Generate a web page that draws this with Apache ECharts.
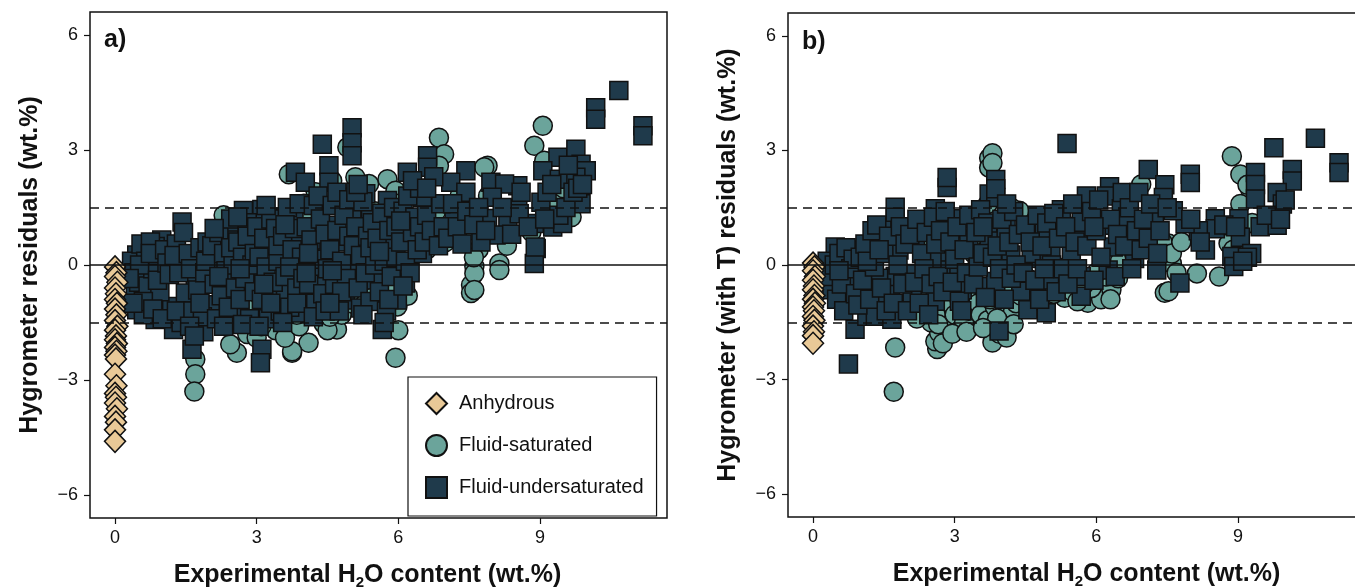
<!DOCTYPE html>
<html><head><meta charset="utf-8">
<script src="https://cdn.jsdelivr.net/npm/echarts@6/dist/echarts.min.js"></script>
<style>html,body{margin:0;padding:0;background:#fff}#c{width:1355px;height:588px}</style>
</head><body><div id="c"></div>
<script>
// ---------- DATA ----------
const xTicks = [0, 3, 6, 9];
const yTicks = [-6, -3, 0, 3, 6];
const refLines = [-1.5, 0, 1.5];

// Panel a: Hygrometer residuals
const anhA = [[0,-0.05],[0.03,-0.2],[0,-0.3],[0.05,-0.45],[0,-0.6],[0.02,-0.75],[0,-0.9],[0.04,-1.0],[0,-1.15],[0.03,-1.3],[0,-1.45],[0.05,-1.6],[0,-1.7],[0.02,-1.85],[0,-1.95],[0.04,-2.05],[0,-2.15],[0.03,-2.25],[0,-2.35],[0.02,-2.45],[0,-2.85],[0.03,-3.15],[0,-3.35],[0.02,-3.45],[0,-3.6],[0.04,-3.75],[0,-3.95],[0.02,-4.1],[0,-4.3],[0,-4.6]];

const satA = [[1.70,-2.46],[1.70,-2.85],[1.68,-3.3],[2.58,-2.29],[2.44,-2.07],[2.30,1.30],[2.30,-0.09],[3.68,2.37],[3.75,-2.29],[3.26,-1.34],[3.54,-1.4],[2.37,-1.6],[4.92,3.07],[6.86,3.32],[6.97,2.89],[6.86,2.59],[4.25,1.90],[5.09,2.29],[5.38,2.11],[5.77,2.24],[5.94,1.94],[4.14,1.34],[7.54,-0.52],[7.54,-0.73],[7.61,-0.04],[5.98,-1.08],[5.94,-2.42],[4.70,-1.68],[4.10,-2.03],[3.75,-2.25],[4.42,-1.53],[4.14,-1.19],[9.06,3.63],[8.88,3.11],[9.09,2.72],[7.89,2.59],[9.59,1.77],[9.67,1.47],[9.67,1.25],[8.82,0.86],[8.14,0.04],[8.14,-0.13],[7.61,-0.22],[7.61,-0.65],[7.82,2.55],
[2.4,0.4],[2.6,-1.0],[2.8,-1.8],[2.9,-1.5],[3.0,-1.9],[3.2,-0.8],[3.4,-1.7],[3.6,-1.9],[3.9,-1.6],[4.0,-0.9],[4.3,-1.3],[4.5,-1.7],[4.6,-0.6],[4.8,-1.3],[5.0,-1.0],[5.2,-0.5],[5.5,-0.8],[5.8,-0.5],[6.0,-1.7],[6.2,-0.8],[2.5,1.2],[3.0,1.3],[3.5,1.0],[4.0,1.6],[4.6,2.2],[5.0,1.8],[5.5,1.4],[6.0,1.6],[6.4,1.1],[6.8,1.4],[7.2,1.3],[7.5,0.9],[7.7,0.4],[7.9,1.8],[8.3,0.5],[9.3,1.6],[9.5,2.0],[2.2,-1.2],[1.9,-1.4],[6.6,0.4],[7.0,0.6],[7.3,1.8],[7.6,0.2],[9.8,1.8],[4.4,-0.2],
[2.75,-1.1],[3.1,-1.6],[3.5,-0.6],[3.85,-1.3],[4.55,-1.35],[5.3,-1.0],[2.35,-0.6]];

const undA = [[0.46,0.26],[0.57,0.30],[0.99,0.65],[0.85,0.48],[0.67,-0.17],[0.71,-0.91],[0.43,-0.65],[0.46,-1.17],[0.85,-1.42],[1.42,1.12],[1.20,-1.08],[1.42,0.13],[1.77,0.17],[1.24,-1.68],[1.70,-0.39],[1.70,-0.91],[2.02,-1.04],[1.88,-1.74],[1.63,-2.2],[2.19,0.22],[2.55,0.91],[2.90,0.93],[2.72,1.42],[3.11,1.45],[2.87,0.45],[3.33,0.50],[2.48,-0.30],[3.11,-0.30],[2.62,-1.25],[3.11,-2.2],[3.08,-2.55],[3.43,-0.74],[3.61,1.25],[2.05,-0.13],[1.49,-0.73],[2.41,0.65],
[5.02,3.58],[5.02,3.19],[5.02,2.85],[4.39,3.15],[4.53,2.59],[4.53,2.16],[3.82,2.42],[4.03,2.16],[6.62,2.85],[6.62,2.55],[6.19,2.42],[7.43,2.46],[7.11,2.16],[7.43,1.90],[5.31,1.86],[5.77,1.68],[6.51,1.77],[5.02,1.42],[3.79,1.30],[4.56,1.04],[5.41,1.30],[5.66,1.08],[6.22,0.95],[7.18,1.21],[3.86,0.56],[4.32,0.43],[4.85,0.60],[5.48,0.26],[5.91,0.47],[6.51,0.30],[3.64,0.17],[3.89,-0.04],[4.42,-0.30],[5.06,-0.13],[5.52,-0.39],[6.15,-0.47],[3.61,-0.73],[3.93,-1.25],[4.56,-0.91],[4.88,-0.91],[5.20,-1.12],[5.66,-1.68],[5.98,-0.91],
[10.67,4.55],[10.18,4.10],[10.18,3.80],[11.18,3.63],[11.18,3.37],[9.38,2.81],[9.76,3.02],[9.87,2.63],[9.98,2.46],[9.06,2.46],[9.41,2.24],[9.76,2.29],[9.87,1.60],[7.96,2.16],[8.53,2.07],[8.25,2.11],[7.99,1.77],[8.53,1.47],[9.02,1.64],[7.89,1.21],[8.32,1.08],[8.07,0.78],[7.75,0.60],[8.88,1.08],[9.27,0.99],[9.48,1.08],[8.92,0.43],[8.88,0.04],[8.56,1.34],[8.9,0.47],
[0.35,0.1],[0.4,-0.2],[0.5,-0.45],[0.55,0.55],[0.6,-1.3],[0.65,0.1],[0.7,-0.55],[0.75,0.6],[0.8,-0.1],[0.9,0.25],[0.95,-0.7],[0.6,-0.95],[0.38,-1.0],[0.8,-1.15],[0.52,0.0],[0.9,-0.4],[0.3,-0.35],[0.75,0.3],[1.0,-1.4],
[1.05,0.4],[1.1,0.05],[1.15,-0.25],[1.3,0.55],[1.35,-0.2],[1.4,-1.5],[1.45,0.85],[1.3,-1.2],[1.25,0.25],
[1.55,0.3],[1.6,-0.1],[1.65,-1.2],[1.75,-0.65],[1.8,0.45],[1.85,-1.35],[1.9,-0.2],[1.95,0.6],[1.58,-1.6],[1.68,-1.85],[1.8,-1.0],[1.92,0.1],
[2.05,0.5],[2.1,-0.5],[2.15,-1.4],[2.2,0.85],[2.25,-0.8],[2.3,0.3],[2.35,-0.15],[2.4,-1.1],[2.45,1.2],[2.5,0.0],[2.1,0.95],[2.3,-1.6],[2.45,0.45],[2.2,-0.3],
[2.55,-0.6],[2.6,0.6],[2.65,-0.9],[2.7,0.2],[2.75,-0.35],[2.8,1.1],[2.85,-1.4],[2.9,0.0],[2.95,-0.7],[2.6,1.25],[2.7,-1.55],[2.8,0.75],[2.95,0.3],[2.65,-0.1],
[3.0,1.0],[3.05,0.2],[3.1,-0.9],[3.15,0.7],[3.2,-0.05],[3.25,-1.4],[3.3,1.2],[3.35,-0.45],[3.4,0.95],[3.45,0.1],[3.5,-1.2],[3.05,-1.6],[3.2,1.55],[3.3,-1.0],[3.45,0.5],[3.15,-0.5],
[3.55,0.75],[3.6,-0.3],[3.65,1.5],[3.7,-1.1],[3.75,0.4],[3.8,0.95],[3.85,-0.6],[3.9,1.6],[3.95,0.2],[3.7,-0.05],[3.55,-1.5],[3.85,-1.0],[3.98,-0.35],[3.6,1.05],
[4.05,1.0],[4.1,-0.5],[4.15,0.65],[4.2,1.55],[4.25,-1.0],[4.3,0.15],[4.35,1.2],[4.4,-0.75],[4.45,0.8],[4.5,-0.1],[4.1,0.3],[4.2,-1.35],[4.3,1.8],[4.45,-1.2],[4.05,-0.2],
[4.55,0.4],[4.6,1.55],[4.65,-0.5],[4.7,0.9],[4.75,-1.2],[4.8,0.1],[4.85,1.3],[4.9,-0.35],[4.95,0.75],[4.6,-0.15],[4.7,1.9],[4.8,-0.7],[4.95,1.7],[4.55,-1.0],
[5.05,0.5],[5.1,1.0],[5.15,-0.6],[5.2,0.25],[5.25,1.65],[5.3,-0.2],[5.35,0.75],[5.4,-0.95],[5.45,1.1],[5.5,0.0],[5.1,1.9],[5.25,-1.3],[5.4,0.45],[5.15,2.1],
[5.55,0.7],[5.6,-0.7],[5.65,1.35],[5.7,0.1],[5.75,-1.2],[5.8,0.9],[5.85,-0.3],[5.9,1.5],[5.95,0.2],[5.6,0.35],[5.8,-0.9],[5.7,-1.5],[5.95,1.0],
[6.05,0.6],[6.1,1.4],[6.15,0.1],[6.2,1.8],[6.25,-0.2],[6.3,0.85],[6.35,1.25],[6.4,0.4],[6.45,2.0],[6.1,-0.55],[6.3,2.2],[6.45,1.0],[6.05,1.15],
[6.55,0.6],[6.6,1.3],[6.7,0.9],[6.75,2.3],[6.85,0.5],[6.9,1.6],[6.95,1.0],[6.6,2.0],
[7.05,0.7],[7.15,1.6],[7.25,1.0],[7.35,0.55],[7.45,1.4],[7.6,1.05],[7.7,1.5],[7.85,0.9],
[8.2,1.5],[8.4,0.8],[8.6,1.9],[8.75,1.0],[9.15,1.9],[9.25,2.1],[9.4,1.3],[9.55,1.5],[9.6,2.6],[9.7,1.9],[9.8,2.0],[9.9,2.1],[9.1,1.2]];

// Panel b: Hygrometer (with T) residuals
const anhB = [[0,0.05],[0.03,-0.05],[0,-0.15],[0.04,-0.3],[0,-0.4],[0.02,-0.55],[0,-0.65],[0.03,-0.8],[0,-0.9],[0.04,-1.0],[0,-1.1],[0.02,-1.2],[0,-1.35],[0.03,-1.45],[0,-1.6],[0.02,-1.75],[0,-1.85],[0,-2.05]];

const satB = [[1.74,-2.16],[1.71,-3.32],[2.63,-2.2],[2.59,-2.0],[2.42,0.52],[2.52,-0.30],[2.45,-0.65],[2.45,-1.08],[2.81,-1.17],[3.09,-1.47],[3.45,-1.51],[3.73,2.8],[3.73,2.55],[3.38,0.73],[3.80,-2.03],[2.67,-1.77],
[3.80,2.93],[3.80,2.67],[4.37,1.42],[6.95,2.11],[5.89,1.68],[6.98,0.91],[7.30,0.47],[7.52,0.47],[7.45,-0.73],[5.33,-0.86],[5.82,-0.99],[6.1,-0.9],[6.32,-0.65],[6.46,-0.35],[5.15,-0.04],[4.55,-0.35],[4.05,-0.91],[4.19,-1.25],[4.05,-1.6],
[8.87,2.85],[9.05,2.37],[9.26,1.98],[9.05,1.60],[8.80,0.56],[7.53,0.56],[7.60,0.04],[8.13,-0.22],[7.53,-0.69],
[2.5,-1.5],[2.6,-1.3],[2.7,-0.9],[2.75,-2.05],[2.85,-1.6],[2.9,-1.0],[3.0,-1.3],[3.1,-0.9],[3.2,-1.5],[3.3,-1.2],[3.35,-0.6],[3.5,-1.0],[3.55,-1.3],[3.6,-0.6],[3.7,-1.45],[3.85,-1.1],[3.9,-1.4],[3.95,-1.8],[4.0,-0.3],[4.1,-1.9],[4.2,-0.6],[4.3,-1.0],[4.4,-0.8],[4.6,-1.0],[4.8,-0.6],[5.0,-0.3],[5.25,-0.6],[5.5,-0.7],[5.6,-0.95],[5.9,-0.6],[6.2,-0.3],[6.5,0.1],[2.9,0.8],[3.4,0.3],[3.7,1.6],[4.2,1.5],[5.5,1.0],[6.6,0.9],[7.1,0.5],[7.4,0.6],[7.6,0.3],[7.7,-0.2],[8.2,0.6],[8.6,-0.3],[8.9,0.4],[9.1,1.0],[9.2,2.1],[9.3,1.1],[2.3,-0.7],[2.2,-1.4],[2.55,0.2],[6.0,-0.2],[6.8,0.3],
[2.65,-1.55],[2.95,-1.8],[3.25,-1.75],[3.6,-1.65],[3.75,-0.9],[4.25,-1.55],[5.1,-0.75],[5.75,-0.5],[6.3,-0.9],[7.8,0.6]];

const undB = [[2.84,2.03],[2.84,2.29],[1.74,1.51],[1.74,1.25],[2.59,1.47],[3.09,1.21],[3.52,1.17],[2.45,1.04],[1.46,0.91],[1.82,0.39],[1.39,0.56],[0.68,0.22],[0.47,0.47],[0.93,0.39],[0.75,-0.35],[0.40,-0.65],[0.75,-0.99],[0.89,-1.68],[0.75,-2.59],[1.14,-1.34],[1.53,-0.91],[1.64,-0.56],[1.74,-0.30],[2.10,-0.73],[1.39,-0.35],[2.59,-0.95],[2.77,0.30],[2.84,-0.13],[3.09,-0.30],[3.48,0.30],[3.73,0.73],[3.73,-0.56],[3.16,-0.65],[1.32,-1.34],[1.67,-1.42],[2.03,-0.22],[2.17,0.56],[2.52,0.17],[3.30,0.65],[3.73,1.86],
[5.38,3.18],[7.10,2.5],[7.45,2.1],[7.42,1.77],[6.28,2.05],[6.21,1.81],[5.79,1.81],[5.26,1.45],[5.72,1.30],[6.53,1.47],[6.14,1.04],[5.72,0.91],[5.68,1.12],[6.67,1.25],[7.23,1.21],[4.90,0.86],[4.09,0.95],[3.87,2.24],[3.87,1.77],[3.87,2.0],[5.47,0.34],[6.36,0.47],[6.81,0.17],[7.28,-0.13],[5.04,0.39],[4.76,0.17],[4.19,0.26],[5.68,-0.30],[6.25,-0.13],[5.01,-0.39],[4.40,-0.69],[3.87,-0.43],[4.94,-1.25],[4.55,-1.17],[5.68,-0.82],[3.94,-1.73],[4.62,0.30],
[10.64,3.32],[9.76,3.07],[11.14,2.68],[11.14,2.42],[10.15,2.5],[10.15,2.2],[7.99,2.38],[7.99,2.16],[9.37,2.42],[9.37,2.11],[9.37,1.73],[9.83,1.90],[9.94,1.60],[9.02,1.21],[9.47,1.0],[9.83,1.04],[8.52,1.21],[8.52,0.95],[8.16,0.9],[7.88,1.08],[7.63,1.42],[9.05,0.73],[8.31,0.39],[9.29,0.30],[8.87,0.22],[8.91,-0.04],[7.77,-0.47],
[0.3,0.1],[0.35,-0.3],[0.45,0.0],[0.5,-0.9],[0.55,0.3],[0.6,-0.5],[0.65,-1.2],[0.7,0.45],[0.8,-0.1],[0.85,0.15],[0.9,-0.75],[0.95,-1.05],[1.0,0.2],[0.55,-0.15],[1.05,-0.4],[1.1,0.55],[1.2,-0.9],[1.25,0.9],[1.3,-0.05],[1.35,1.05],[1.45,-0.6],[1.5,0.3],[1.55,-1.2],[1.6,0.75],[1.7,-1.0],[1.8,0.0],[1.85,1.0],[1.9,-0.5],[1.95,0.55],[2.0,-1.2],[2.05,0.8],[2.15,-0.45],[2.2,1.2],[2.25,-1.0],[2.3,0.3],[2.35,-0.1],[2.4,0.85],[2.5,-0.5],[2.55,1.25],[2.6,0.55],[2.65,-0.3],[2.7,0.9],[2.75,-0.7],[2.8,1.4],[2.9,0.6],[2.95,-0.45],[3.0,0.15],[3.05,1.0],[3.1,-0.95],[3.2,0.4],[3.25,-0.2],[3.3,1.3],[3.4,-0.5],[3.45,0.85],[3.5,-0.05],[3.55,1.45],[3.6,0.3],[3.65,-0.85],[3.7,1.1],[3.8,0.2],[3.9,0.5],[3.95,-0.1],[4.0,1.2],[4.05,-0.9],[4.15,0.6],[4.2,-0.35],[4.25,1.4],[4.3,0.0],[4.35,0.8],[4.45,-0.2],[4.5,1.05],[4.6,0.6],[4.7,-0.4],[4.75,1.3],[4.8,-0.9],[4.85,0.5],[4.95,1.1],[5.05,0.0],[5.1,1.35],[5.15,-0.7],[5.2,0.7],[5.3,-0.1],[5.35,1.0],[5.4,-0.5],[5.5,1.6],[5.55,0.6],[5.6,-0.1],[5.8,0.5],[5.9,1.4],[5.95,-0.4],[6.0,0.9],[6.05,1.7],[6.1,0.2],[6.3,1.2],[6.4,-0.3],[6.45,0.8],[6.55,1.9],[6.6,0.5],[6.7,1.5],[6.75,-0.1],[6.85,0.9],[6.9,1.9],[6.95,0.4],[7.0,1.2],[7.1,0.7],[7.15,1.6],[7.3,0.3],[7.35,0.9],[7.5,1.5],[1.15,0.1],[1.4,0.4],[2.45,-1.3],[3.15,-1.2],[3.6,1.0],[4.1,1.6],[4.9,-0.1],[5.95,1.0],[8.0,1.2],[8.2,0.6],[8.7,1.05],[9.2,0.2],[9.6,1.3],[9.9,1.2],[10.0,1.7],[9.1,0.1],[8.95,1.0]];

// ---------- STYLE ----------
const C_ANH = '#e9c997', C_SAT = '#6ba49b', C_UND = '#1f3a4b';
const FONT = 'Liberation Sans, Arial, sans-serif';
const X_RANGE = [-0.53, 11.69], Y_RANGE = [-6.6, 6.6];

const chart = echarts.init(document.getElementById('c'), null, {renderer: 'canvas'});
const fmt = v => v < 0 ? '\u2212' + Math.abs(v) : String(v);

function xAxis(gi, shift) {
  return {
    type: 'value', gridIndex: gi, min: X_RANGE[0], max: X_RANGE[1], position: 'bottom',
    axisLine: {show: false, onZero: false}, splitLine: {show: false},
    axisTick: {show: true, customValues: xTicks, length: 6, lineStyle: {color: '#111', width: 1.2}},
    axisLabel: {customValues: xTicks, margin: 11, fontFamily: FONT, fontSize: 18, color: '#111', formatter: fmt},
    name: '{t|Experimental H}{s|2}{t|O content (wt.%)}', nameLocation: 'middle', nameGap: 43,
    nameTextStyle: {
      padding: shift < 0 ? [0, -2 * shift, 0, 0] : [0, 0, 0, 2 * shift],
      rich: {
        t: {fontFamily: FONT, fontWeight: 'bold', fontSize: 25, color: '#111'},
        s: {fontFamily: FONT, fontWeight: 'bold', fontSize: 15, color: '#111', verticalAlign: 'bottom', padding: [14, 0, 0, 0]}
      }
    }
  };
}
function yAxis(gi, name) {
  return {
    type: 'value', gridIndex: gi, min: Y_RANGE[0], max: Y_RANGE[1], position: 'left',
    axisLine: {show: false, onZero: false}, splitLine: {show: false},
    axisTick: {show: true, customValues: yTicks, length: 6, lineStyle: {color: '#111', width: 1.2}},
    axisLabel: {customValues: yTicks, margin: 12, fontFamily: FONT, fontSize: 18, color: '#111', formatter: fmt},
    name: name, nameLocation: 'middle', nameGap: 47, nameRotate: 90,
    nameTextStyle: {fontFamily: FONT, fontWeight: 'bold', fontSize: 25, color: '#111'}
  };
}
function refMark() {
  return {
    silent: true, symbol: 'none', label: {show: false}, animation: false,
    data: refLines.map(v => ({yAxis: v, lineStyle: {color: '#111', width: 1.5, type: v === 0 ? 'solid' : [9, 6]}}))
  };
}
const border = {color: '#111', width: 1.5};
function sc(name, data, gi, symbol, size, color, z, withLines) {
  const s = {
    name: name, type: 'scatter', xAxisIndex: gi, yAxisIndex: gi, data: data,
    symbol: symbol, symbolSize: size, z: z,
    itemStyle: {color: color, borderColor: border.color, borderWidth: border.width, opacity: 1},
    emphasis: {disabled: true}
  };
  if (withLines) s.markLine = refMark();
  return s;
}

chart.setOption({
  animation: false,
  backgroundColor: '#fff',
  grid: [
    {left: 90, top: 12, width: 577, height: 506, show: true, borderColor: '#111', borderWidth: 1.5, backgroundColor: 'transparent', outerBoundsMode: 'none', containLabel: false},
    {left: 788, top: 13, width: 577, height: 504, show: true, borderColor: '#111', borderWidth: 1.5, backgroundColor: 'transparent', outerBoundsMode: 'none', containLabel: false}
  ],
  xAxis: [xAxis(0, -11), xAxis(1, 10)],
  yAxis: [yAxis(0, 'Hygrometer residuals (wt.%)'), yAxis(1, 'Hygrometer (with T) residuals (wt.%)')],
  legend: {
    left: 408, top: 377, orient: 'vertical',
    data: ['Anhydrous', 'Fluid-saturated', 'Fluid-undersaturated'],
    backgroundColor: '#fff', borderColor: '#111', borderWidth: 1.2,
    padding: [15, 13, 17, 17], itemGap: 19, itemWidth: 21, itemHeight: 21,
    textStyle: {fontFamily: FONT, fontSize: 20, color: '#111', lineHeight: 20, padding: [0, 0, 0, 7]},
    selectedMode: false, z: 20
  },
  graphic: [
    {type: 'text', left: 104, top: 28, style: {text: 'a)', font: 'bold 25px ' + FONT, fill: '#111'}},
    {type: 'text', left: 802, top: 30, style: {text: 'b)', font: 'bold 25px ' + FONT, fill: '#111'}}
  ],
  series: [
    sc('Fluid-saturated', satA, 0, 'circle', 19, C_SAT, 2, true),
    sc('Fluid-undersaturated', undA, 0, 'rect', 18, C_UND, 3, false),
    sc('Anhydrous', anhA, 0, 'diamond', [21, 22], C_ANH, 4, false),
    sc('Fluid-saturated', satB, 1, 'circle', 19, C_SAT, 2, true),
    sc('Fluid-undersaturated', undB, 1, 'rect', 18, C_UND, 3, false),
    sc('Anhydrous', anhB, 1, 'diamond', [21, 22], C_ANH, 4, false)
  ]
});
</script></body></html>
